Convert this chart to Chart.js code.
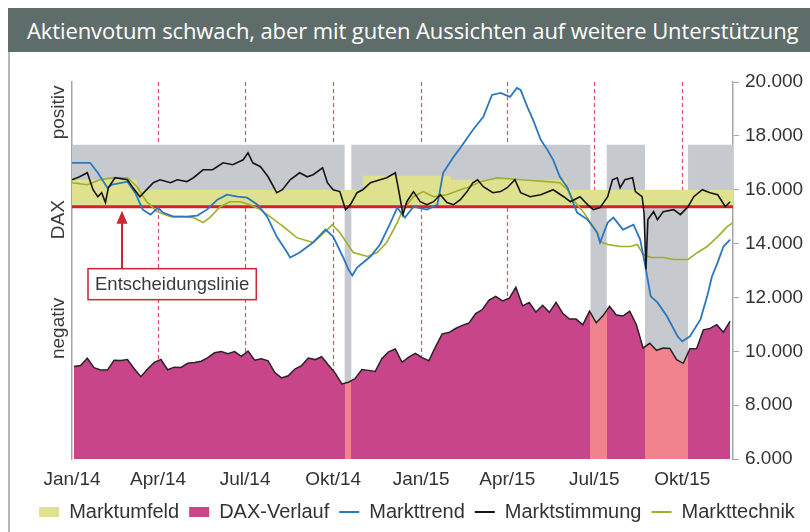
<!DOCTYPE html>
<html>
<head>
<meta charset="utf-8">
<script src="https://cdn.jsdelivr.net/npm/chart.js@4.4.1/dist/chart.umd.min.js"></script>
<style>
  html, body { margin: 0; padding: 0; background: #fff; }
  body { width: 810px; height: 532px; position: relative; overflow: hidden; }
  #title {
    position: absolute; left: 8px; top: 8px; width: 802px; height: 44px;
    background: #5e6d6a; color: #fff; box-sizing: border-box; padding-left: 19px;
    font-family: "Open Sans", sans-serif; font-size: 22px; line-height: 44px;
    letter-spacing: -0.1px; white-space: nowrap; overflow: hidden;
  }
  #frame { position: absolute; left: 8px; top: 52px; width: 2px; height: 480px; background: #b8b8b8; }
  #wrap { position: absolute; left: 0; top: 52px; width: 810px; height: 480px; }
</style>
</head>
<body>
<div id="title">Aktienvotum schwach, aber mit guten Aussichten auf weitere Unterstützung</div>
<div id="frame"></div>
<div id="wrap"><canvas id="daxChart"></canvas></div>
<script>
// x axis: days since 1 Jan 2014
const tickDays = [0, 90, 181, 273, 365, 455, 546, 638];
const tickLabels = ["Jan/14", "Apr/14", "Jul/14", "Okt/14", "Jan/15", "Apr/15", "Jul/15", "Okt/15"];

// DAX weekly closes (Fridays, starting 3 Jan 2014)
const daxWeekly = [
  9435, 9473, 9743, 9392, 9306, 9301, 9663, 9657, 9692, 9350, 9056, 9343, 9587,
  9695, 9315, 9410, 9401, 9556, 9581, 9630, 9768, 9943, 9987, 9912, 9987, 9815,
  10009, 9666, 9720, 9644, 9210, 9010, 9092, 9340, 9470, 9747, 9691, 9799, 9490,
  9195, 8788, 8850, 8988, 9326, 9291, 9252, 9732, 9980, 10087, 9594, 9786, 9923,
  9765, 9648, 10167, 10649, 10694, 10846, 10963, 11050, 11401, 11550, 11901, 12039, 11868,
  11967, 12375, 11689, 11811, 11454, 11709, 11447, 11815, 11413, 11197, 11196, 10982, 11492,
  11058, 11316, 11673, 11347, 11308, 11490, 10985, 10124, 10298, 10038, 10123, 10104, 9688,
  9553, 10096, 10104, 10795, 10850, 10988, 10708, 11119
];

// indicator lines, [day, value on DAX scale]
const markttrend = [
  [0, 17000], [19, 17000], [27, 16630], [37, 16075], [42, 16190], [58, 16300], [66, 15890],
  [74, 15260], [82, 15075], [90, 15330], [95, 15150], [106, 15000], [120, 15000], [131, 15040],
  [141, 15260], [152, 15630], [162, 15815], [173, 15740], [183, 15705], [194, 15445], [204, 15000],
  [214, 14260], [225, 13670], [228, 13480], [238, 13670], [252, 14040], [265, 14520], [273, 14260],
  [283, 13520], [289, 13040], [293, 12815], [298, 13110], [312, 13520], [322, 13965], [333, 14780],
  [340, 15335], [348, 14965], [357, 15370], [371, 15260], [382, 15445], [388, 16630], [399, 17220],
  [406, 17555], [419, 18220], [430, 18705], [439, 19520], [448, 19595], [458, 19445], [465, 19780],
  [469, 19705], [476, 19075], [482, 18595], [490, 17855], [497, 17480], [503, 17110], [510, 16480],
  [518, 16075], [528, 15150], [539, 14890], [549, 14410], [552, 14040], [560, 14780], [566, 14965],
  [576, 14520], [587, 14705], [594, 14150], [599, 13220], [605, 12040], [612, 11815], [622, 11300],
  [633, 10555], [638, 10370], [646, 10555], [657, 11185], [664, 12040], [669, 12780], [675, 13300],
  [681, 13890], [688, 14150]
];
const marktstimmung = [
  [0, 16370], [8, 16480], [16, 16630], [22, 16000], [27, 15740], [31, 15890], [35, 15520],
  [38, 16075], [45, 16445], [58, 16370], [63, 16110], [71, 15740], [76, 15930], [85, 16260],
  [92, 16370], [103, 16260], [110, 16370], [120, 16300], [127, 16445], [137, 16740], [147, 16740],
  [158, 17000], [168, 16930], [179, 17110], [184, 17370], [189, 17000], [197, 16855], [205, 16480],
  [214, 15890], [220, 16000], [228, 16370], [238, 16630], [246, 16480], [252, 16555], [262, 16815],
  [267, 16260], [273, 16000], [280, 15930], [286, 15260], [291, 15445], [298, 15890], [304, 16000],
  [312, 16260], [322, 16370], [329, 16445], [338, 16630], [341, 16075], [346, 15075], [350, 15555],
  [357, 15930], [364, 15555], [371, 15445], [378, 15555], [385, 15815], [392, 15520], [399, 15445],
  [406, 15630], [413, 15930], [419, 16260], [424, 16370], [430, 16110], [440, 15890], [448, 15930],
  [455, 16075], [463, 16370], [469, 15890], [479, 15740], [490, 15815], [503, 16000], [514, 15740],
  [521, 15555], [531, 15740], [539, 15445], [545, 15260], [552, 15335], [560, 15740], [565, 16370],
  [570, 16445], [573, 16075], [578, 16370], [586, 16445], [589, 15930], [596, 15740], [598, 15150],
  [600, 13040], [602, 14890], [608, 15185], [612, 14890], [618, 15185], [629, 15260], [636, 15075],
  [644, 15370], [650, 15740], [659, 16000], [667, 15890], [675, 15815], [683, 15370], [688, 15555]
];
const markttechnik = [
  [0, 16260], [16, 16185], [29, 16370], [43, 16445], [58, 16445], [68, 16110], [78, 15555],
  [89, 15185], [103, 15000], [116, 15000], [127, 14965], [137, 14780], [144, 14965], [155, 15370],
  [165, 15555], [176, 15555], [186, 15445], [197, 15260], [207, 15000], [221, 14630], [235, 14220],
  [252, 14040], [267, 14520], [272, 14705], [280, 14410], [294, 13670], [309, 13520], [319, 13670],
  [329, 14040], [340, 14780], [346, 15260], [357, 15740], [367, 15930], [378, 15740], [392, 15815],
  [406, 16000], [416, 16110], [427, 16300], [445, 16445], [469, 16370], [497, 16300], [510, 16260],
  [518, 16000], [524, 15630], [535, 15150], [542, 14780], [549, 14410], [552, 14075], [560, 13965],
  [573, 13890], [584, 13890], [591, 13965], [597, 13595], [605, 13480], [618, 13480], [629, 13410],
  [644, 13410], [654, 13670], [664, 13890], [675, 14260], [685, 14630], [691, 14780]
];

// Marktumfeld: phases above / below the decision line, and the yellow band top
const umfeldPhases = [[0, 285, "pos"], [285, 292, "neg"], [292, 542, "pos"], [542, 559, "neg"],
                      [559, 599, "pos"], [599, 644, "neg"], [644, 691, "pos"]];
const umfeldBand = [[0, 16370], [68, 16000], [304, 16520], [396, 16370], [517, 16000], [691, 16000]];
const umfeldTop = 17670;
const entscheidung = 15370;

const magenta = "#c8458a";
const pink = "#f1838f";

function fmt(v) {
  return String(v).replace(/\B(?=(\d{3})+(?!\d))/g, ".");
}

// DAX area turns pink where the Marktumfeld is negative
function daxFill(context) {
  const chart = context.chart;
  const { ctx, chartArea, scales } = chart;
  if (!chartArea || !scales.x) return magenta;
  const w = chartArea.right - chartArea.left;
  const g = ctx.createLinearGradient(chartArea.left, 0, chartArea.right, 0);
  const frac = d => Math.min(1, Math.max(0, (scales.x.getPixelForValue(d) - chartArea.left) / w));
  g.addColorStop(0, magenta);
  umfeldPhases.filter(p => p[2] === "neg").forEach(([from, to]) => {
    g.addColorStop(frac(from), magenta);
    g.addColorStop(frac(from), pink);
    g.addColorStop(frac(to), pink);
    g.addColorStop(frac(to), magenta);
  });
  g.addColorStop(1, magenta);
  return g;
}

const backdrop = {
  id: "backdrop",
  beforeDatasetsDraw(chart) {
    const { ctx, chartArea: a, scales: { x, y } } = chart;
    ctx.save();
    // quarter markers
    ctx.strokeStyle = "#e2545e";
    ctx.lineWidth = 1.2;
    ctx.setLineDash([4, 3]);
    tickDays.slice(1).forEach(d => {
      const px = Math.round(x.getPixelForValue(d)) + 0.5;
      ctx.beginPath();
      ctx.moveTo(px, a.top);
      ctx.lineTo(px, a.bottom);
      ctx.stroke();
    });
    ctx.setLineDash([]);
    // gray Marktumfeld blocks
    ctx.fillStyle = "#c6c9cd";
    const yl = y.getPixelForValue(entscheidung);
    umfeldPhases.forEach(([from, to, sign]) => {
      const x0 = x.getPixelForValue(from), x1 = x.getPixelForValue(to);
      if (sign === "pos") {
        const yt = y.getPixelForValue(umfeldTop);
        ctx.fillRect(x0, yt, x1 - x0, yl - yt);
      } else {
        ctx.fillRect(x0, yl, x1 - x0, a.bottom - yl);
      }
    });
    ctx.restore();
  },
  afterDraw(chart) {
    const { ctx, scales: { x, y } } = chart;
    ctx.save();
    // rotated side labels
    ctx.fillStyle = "#3a3a3a";
    ctx.font = "19px 'Liberation Sans', Arial, sans-serif";
    ctx.textAlign = "center";
    ctx.textBaseline = "middle";
    [["positiv", 18870], ["DAX", 14890], ["negativ", 10850]].forEach(([t, v]) => {
      ctx.save();
      ctx.translate(59, y.getPixelForValue(v));
      ctx.rotate(-Math.PI / 2);
      ctx.fillText(t, 0, 0);
      ctx.restore();
    });
    // Entscheidungslinie annotation
    const ax = Math.round(x.getPixelForValue(52));
    const ly = y.getPixelForValue(entscheidung);
    const boxTop = ly + 62;
    ctx.font = "18.5px 'Liberation Sans', Arial, sans-serif";
    const tw = ctx.measureText("Entscheidungslinie").width;
    const bx = ax - 34;
    ctx.fillStyle = "#fff";
    ctx.fillRect(bx, boxTop, tw + 14, 31);
    ctx.strokeStyle = "#cc2631";
    ctx.lineWidth = 1.5;
    ctx.strokeRect(bx, boxTop, tw + 14, 31);
    ctx.fillStyle = "#3a3a3a";
    ctx.textAlign = "left";
    ctx.fillText("Entscheidungslinie", bx + 7, boxTop + 16);
    ctx.strokeStyle = "#cc2631";
    ctx.lineWidth = 2;
    ctx.beginPath();
    ctx.moveTo(ax, boxTop);
    ctx.lineTo(ax, ly + 14);
    ctx.stroke();
    ctx.fillStyle = "#cc2631";
    ctx.beginPath();
    ctx.moveTo(ax, ly + 4);
    ctx.lineTo(ax - 5.5, ly + 17);
    ctx.lineTo(ax + 5.5, ly + 17);
    ctx.closePath();
    ctx.fill();
    ctx.restore();
  }
};

Chart.defaults.font.family = "'Liberation Sans', Arial, sans-serif";
Chart.defaults.color = "#333";

new Chart(document.getElementById("daxChart"), {
  type: "line",
  data: {
    datasets: [
      { label: "Marktstimmung", data: marktstimmung, borderColor: "#161616", borderWidth: 1.6,
        pointRadius: 0, order: 1, legendRank: 4, legendColor: "#161616" },
      { label: "Markttrend", data: markttrend, borderColor: "#2b77c0", borderWidth: 1.8,
        pointRadius: 0, order: 2, legendRank: 3, legendColor: "#2b77c0" },
      { label: "Markttechnik", data: markttechnik, borderColor: "#9fae2c", borderWidth: 1.6,
        pointRadius: 0, order: 3, legendRank: 5, legendColor: "#9fae2c" },
      { label: "Entscheidungslinie", data: [[0, entscheidung], [691, entscheidung]],
        borderColor: "#d3202b", borderWidth: 3, pointRadius: 0, order: 4 },
      { label: "DAX-Verlauf", data: daxWeekly.map((v, i) => ({ x: 2 + 7 * i, y: v })),
        borderColor: "#2b2226", borderWidth: 1.5, pointRadius: 0, fill: "start",
        backgroundColor: daxFill, order: 5, legendRank: 2, legendColor: magenta },
      { label: "Marktumfeld", data: umfeldBand, stepped: "before", borderWidth: 0,
        pointRadius: 0, fill: { value: entscheidung }, backgroundColor: "#dfe18e",
        order: 6, legendRank: 1, legendColor: "#dfe18e" }
    ]
  },
  options: {
    responsive: true,
    maintainAspectRatio: false,
    animation: false,
    layout: { padding: { left: 24, top: 30, right: 0, bottom: 0 } },
    scales: {
      x: {
        type: "linear", min: 0, max: 691,
        grid: { display: false, drawTicks: false },
        border: { display: false },
        afterBuildTicks: axis => { axis.ticks = tickDays.map(v => ({ value: v })); },
        afterFit: s => { s.height = 33; },
        ticks: {
          autoSkip: false, maxRotation: 0, padding: 9,
          font: { size: 19 }, color: "#333",
          callback: (v, i) => tickLabels[i]
        }
      },
      y: {
        position: "right", min: 6000, max: 20000,
        grid: { drawOnChartArea: false, drawTicks: true, tickLength: 6, color: "#a5a5a5" },
        border: { display: true, color: "#a5a5a5", width: 1.5 },
        afterFit: s => { s.width = 77; },
        ticks: { stepSize: 2000, padding: 6, font: { size: 19 }, color: "#333", callback: v => fmt(v) }
      },
      yl: {
        position: "left",
        grid: { display: false, drawTicks: false },
        border: { display: true, color: "#a5a5a5", width: 1.5 },
        ticks: { display: false },
        afterFit: s => { s.width = 48; }
      }
    },
    plugins: {
      tooltip: { enabled: false },
      legend: {
        position: "bottom",
        labels: {
          usePointStyle: true, pointStyleWidth: 20, boxHeight: 10, padding: 10,
          font: { size: 20 }, color: "#333",
          generateLabels: chart => chart.data.datasets
            .map((ds, i) => ({ ds, i }))
            .filter(o => o.ds.legendRank)
            .sort((a, b) => a.ds.legendRank - b.ds.legendRank)
            .map(({ ds, i }) => ({
              text: ds.label, datasetIndex: i, hidden: false,
              pointStyle: ds.fill ? "rect" : "line",
              fillStyle: ds.legendColor, strokeStyle: ds.legendColor,
              lineWidth: ds.fill ? 0 : 2, fontColor: "#333"
            }))
        }
      }
    }
  },
  plugins: [backdrop]
});
</script>
</body>
</html>
